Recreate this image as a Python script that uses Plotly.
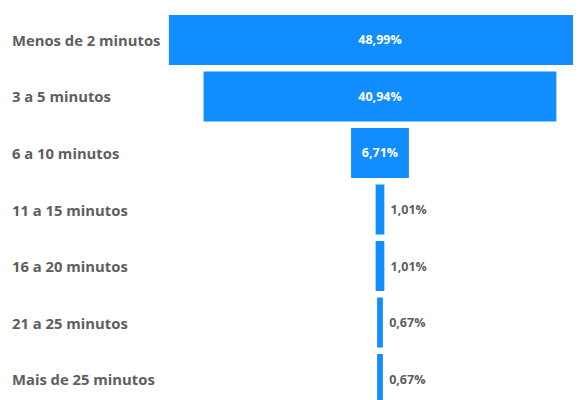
import plotly.graph_objects as go

categories = ["Menos de 2 minutos", "3 a 5 minutos", "6 a 10 minutos", "11 a 15 minutos",
              "16 a 20 minutos", "21 a 25 minutos", "Mais de 25 minutos"]
values = [48.99, 40.94, 6.71, 1.01, 1.01, 0.67, 0.67]

inside = [v > 5 for v in values]
labels = [("<b>" if i else "\u00a0<b>") + f"{v:.2f}%".replace(".", ",") + "</b>"
          for v, i in zip(values, inside)]
textpos = ["inside" if i else "outside" for i in inside]

fig = go.Figure(go.Funnel(
    y=categories,
    x=values,
    text=labels,
    textinfo="text",
    textposition=textpos,
    insidetextanchor="middle",
    insidetextfont=dict(family="Open Sans", size=12.5, color="#FFFFFF"),
    outsidetextfont=dict(family="Open Sans", size=12.5, color="#605E5C"),
    marker=dict(color="#118DFF", line=dict(width=0)),
    connector=dict(visible=False),
    constraintext="none",
    cliponaxis=True,
))

for c in categories:
    fig.add_annotation(x=2/581, xref="paper", y=c, yref="y", text=f"<b>{c}</b>",
                       showarrow=False, xanchor="left", yanchor="middle",
                       font=dict(family="Open Sans", size=14.8, color="#605E5C"))

fig.update_layout(
    width=581, height=400,
    margin=dict(l=0, r=0, t=0, b=0),
    paper_bgcolor="white", plot_bgcolor="white",
    funnelgap=0.115,
    showlegend=False,
    xaxis=dict(visible=False, range=[-43.16, 24.25]),
    yaxis=dict(showticklabels=False, showgrid=False, zeroline=False,
               categoryorder="array", categoryarray=categories,
               range=[6.513, -0.566]),
    font=dict(family="Open Sans"),
)

fig.write_html("out.html")
